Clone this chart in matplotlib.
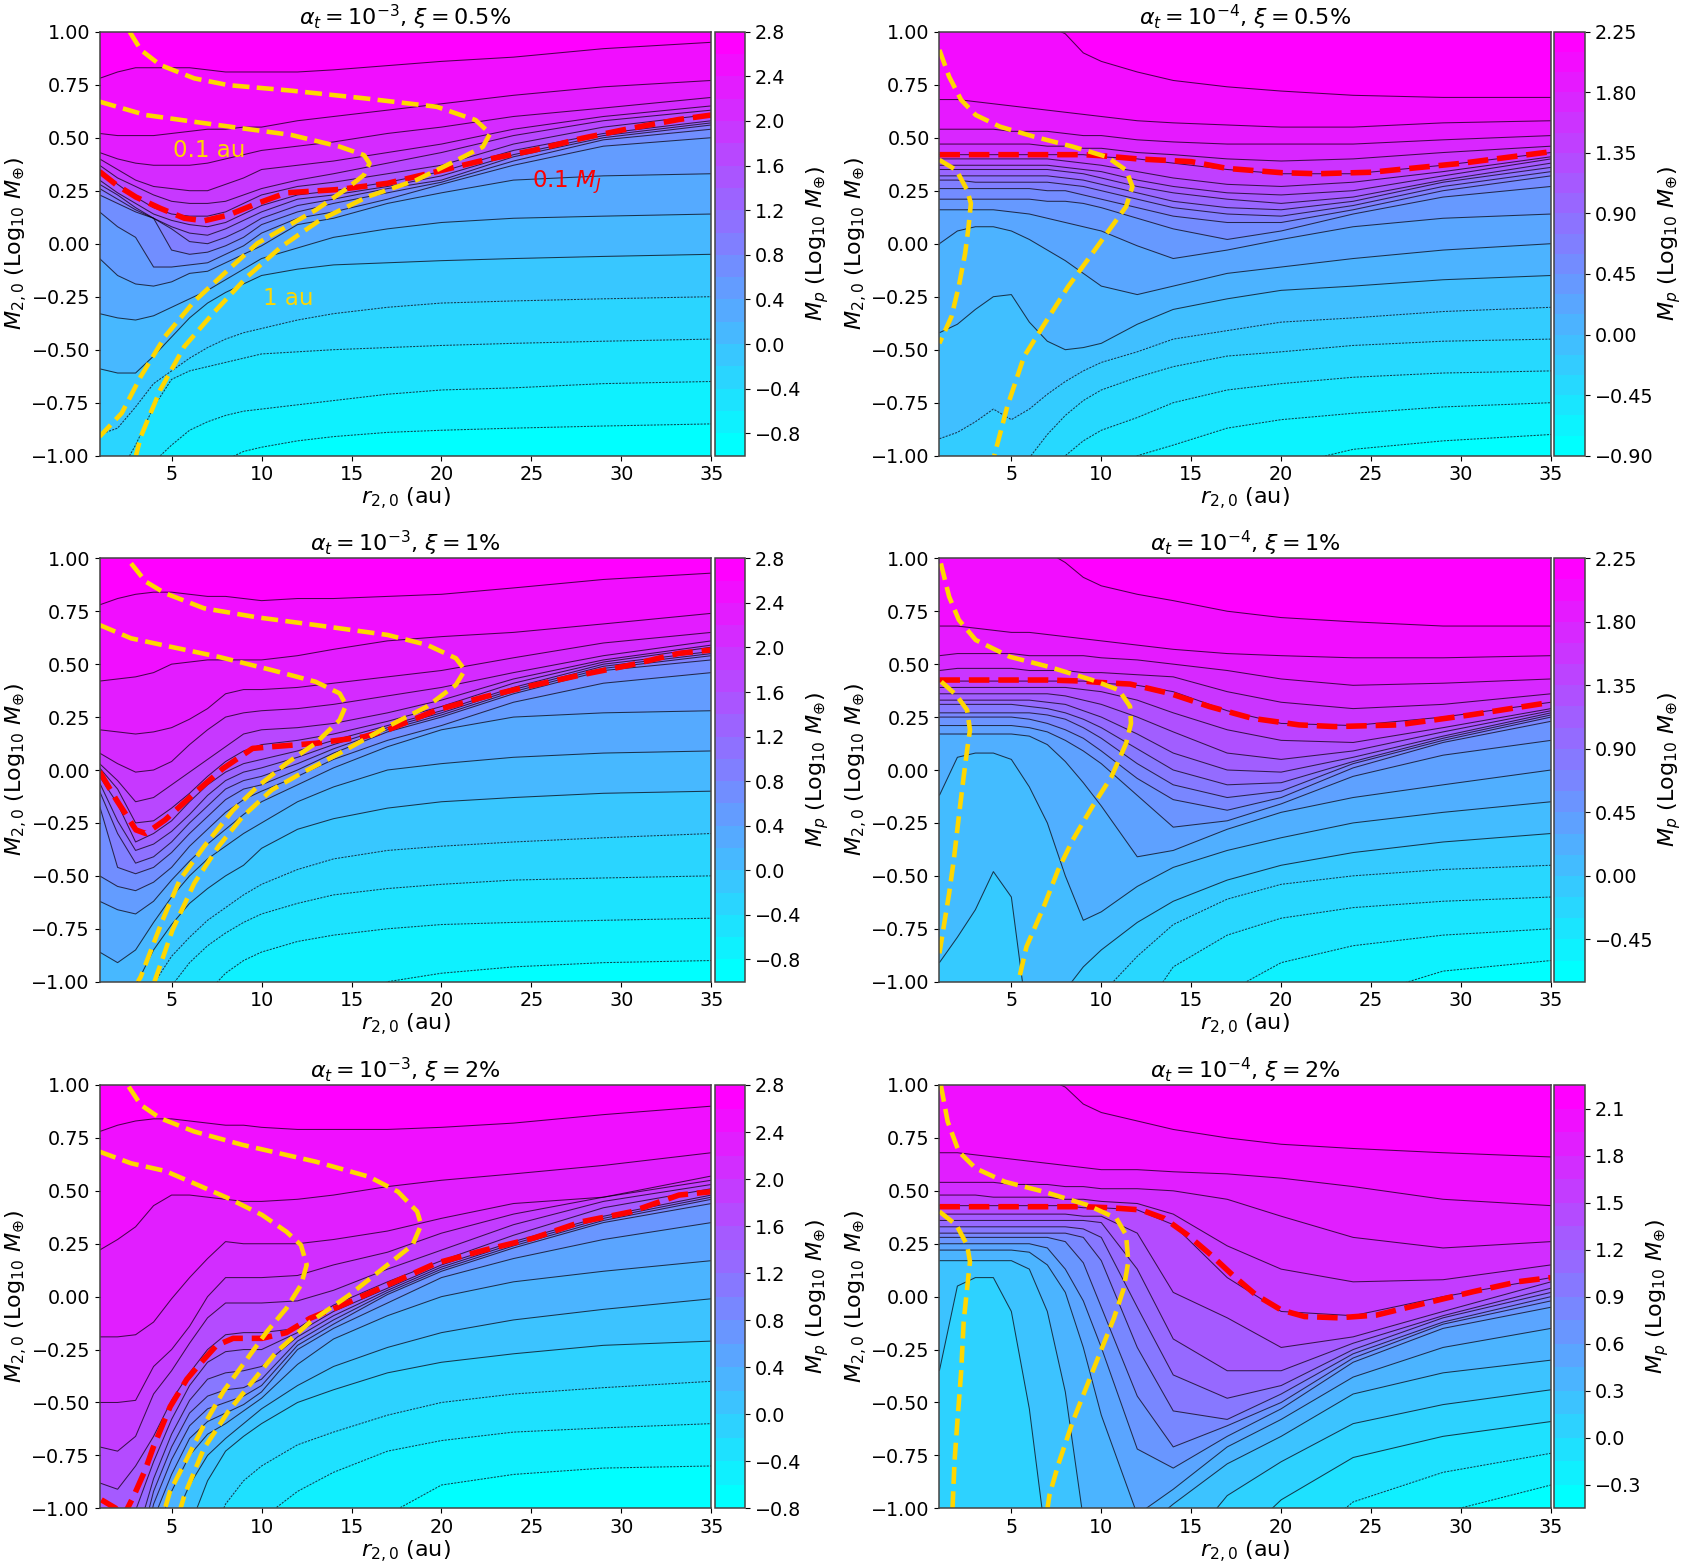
import numpy as np
import matplotlib
matplotlib.use("Agg")
import matplotlib.pyplot as plt
from matplotlib.ticker import FuncFormatter

plt.rcParams["contour.negative_linestyle"] = (0, (2.0, 1.2))

# column positions (au) shared by all level-curve tables
R = [1, 2, 3, 4, 5, 6, 7, 8, 9, 10, 12, 14, 17, 20, 24, 29, 35]

# Each table: M2,0 (in hundredths) at which Mp reaches a level, highest level first
P1_LEVELS = [2.6, 2.4, 2.2, 2.0, 1.8, 1.6, 1.4, 1.2, 1.0, 0.8, 0.6, 0.4, 0.2, 0.0, -0.2, -0.4, -0.6, -0.8]
P1_EDGES = (-1.0, 2.8)
P1_M2 = [
    [78, 81, 83, 83, 83, 83, 82, 81, 81, 81, 81, 82, 84, 86, 88, 92, 95],
    [52, 51, 51, 51, 52, 53, 54, 54, 55, 55, 58, 60, 63, 66, 70, 74, 77],
    [43, 40, 38, 37, 37, 37, 38, 40, 42, 44, 46, 48, 52, 55, 60, 64, 69],
    [40, 35, 30, 27, 26, 25, 25, 28, 31, 35, 37, 39, 43, 47, 54, 60, 65],
    [37, 31, 27, 23, 20, 19, 19, 20, 23, 26, 30, 33, 38, 43, 51, 58, 63],
    [35, 28, 22, 17, 14, 13, 13, 15, 19, 23, 27, 29, 33, 37, 47, 55, 61],
    [30, 24, 19, 14, 11, 9, 8, 10, 14, 18, 23, 25, 29, 34, 44, 52, 58],
    [28, 23, 17, 12, 8, 5, 4, 7, 11, 15, 21, 23, 27, 32, 42, 51, 57],
    [26, 21, 16, 12, 7, 1, 0, 3, 7, 12, 18, 21, 26, 30, 41, 50, 56],
    [23, 19, 15, 12, -3, -5, -4, -1, 3, 9, 15, 19, 24, 29, 39, 49, 54],
    [15, 8, 3, -11, -11, -10, -9, -5, -1, 5, 12, 15, 21, 28, 37, 46, 50],
    [-7, -15, -19, -20, -18, -14, -13, -9, -5, -1, 9, 12, 19, 24, 30, 32, 33],
    [-33, -35, -36, -34, -30, -26, -22, -17, -12, -7, -2, 3, 7, 10, 12, 13, 14],
    [-59, -61, -61, -53, -44, -35, -28, -23, -19, -15, -12, -10, -9, -8, -7, -6, -5],
    [-90, -87, -77, -66, -60, -54, -49, -45, -42, -40, -36, -33, -30, -28, -27, -26, -25],
    [-130, -110, -95, -77, -64, -60, -58, -56, -54, -52, -51, -50, -49, -48, -47, -46, -45],
    [-150, -135, -125, -103, -95, -88, -84, -81, -79, -78, -76, -74, -71, -69, -68, -66, -65],
    [-170, -160, -150, -140, -130, -120, -110, -102, -98, -96, -93, -91, -89, -88, -87, -86, -85],
]
P1_RED_R = [1, 1.94, 3.02, 4.37, 5.72, 6.8, 8.15, 9.76, 11.38, 14.34, 17, 19.73, 22.4, 25.1, 27.8, 30.5, 33.2, 35]
P1_RED_M = [.34, .277, .22, .167, .12, .108, .135, .19, .24, .256, .285, .34, .395, .44, .497, .544, .586, .607]
P1_GOLD_A_R = [1, 3.56, 6.26, 8.95, 11.65, 14.34, 15.69, 16.0, 15.69, 14.75, 13, 11.38, 9.77, 8.15, 6.26, 4.64, 3.29, 2.23, 1]
P1_GOLD_A_M = [.67, .607, .575, .544, .513, .458, .418, .379, .324, .261, .158, .08, .002, -.123, -.272, -.437, -.626, -.799, -.91]
P1_GOLD_B_R = [2.67, 3.29, 4.37, 6.26, 8.15, 11.65, 15.69, 19.73, 21.9, 22.7, 22.3, 20.5, 18.6, 15.9, 13.26, 11.1, 9.2, 7.3, 5.7, 4.37, 3.29, 3.02]
P1_GOLD_B_M = [1, .914, .843, .78, .748, .722, .686, .646, .583, .52, .457, .379, .3, .222, .112, -.014, -.156, -.329, -.486, -.69, -.91, -1]
P1_CBAR = [-0.8, -0.4, 0.0, 0.4, 0.8, 1.2, 1.6, 2.0, 2.4, 2.8]

P2_LEVELS = [2.1, 1.95, 1.8, 1.65, 1.5, 1.35, 1.2, 1.05, 0.9, 0.75, 0.6, 0.45, 0.3, 0.15, 0.0, -0.15, -0.3, -0.45, -0.6, -0.75]
P2_EDGES = (-0.9, 2.25)
P2_M2 = [
    [145, 135, 128, 120, 114, 108, 103, 99, 90, 86, 81, 77, 74, 72, 70, 69, 69],
    [68, 68, 67, 66, 65, 64, 63, 62, 61, 60, 58, 57, 56, 55, 55, 57, 58],
    [54, 54, 54, 54, 53, 53, 53, 52, 51, 51, 49, 48, 47, 47, 47, 49, 51],
    [47, 47, 47, 47, 47, 47, 46, 46, 45, 45, 43, 42, 40, 39, 40, 43, 46],
    [42, 42, 42, 42, 42, 42, 42, 42, 42, 41, 40, 38, 35, 33, 33, 37, 43],
    [40, 40, 40, 40, 40, 40, 40, 39, 38, 37, 34, 31, 28, 27, 29, 34, 41],
    [37, 37, 37, 37, 37, 37, 37, 36, 35, 34, 30, 27, 24, 23, 25, 32, 40],
    [35, 35, 35, 35, 35, 35, 35, 34, 33, 31, 27, 24, 21, 19, 22, 30, 38],
    [32, 32, 32, 32, 32, 32, 32, 31, 30, 28, 24, 20, 17, 16, 20, 29, 36],
    [30, 30, 29, 29, 29, 29, 29, 28, 27, 25, 21, 17, 14, 13, 18, 27, 34],
    [26, 26, 26, 26, 26, 26, 25, 25, 23, 21, 17, 13, 10, 10, 16, 25, 32],
    [21, 21, 21, 21, 21, 21, 20, 20, 19, 17, 12, 7, 2, 6, 14, 22, 27],
    [16, 16, 16, 16, 15, 14, 12, 10, 8, 6, -1, -7, -3, 2, 8, 12, 14],
    [0, 6, 8, 8, 6, 2, -3, -8, -14, -20, -24, -20, -14, -11, -7, -3, 0],
    [-42, -38, -31, -25, -24, -37, -46, -50, -49, -47, -38, -31, -26, -22, -20, -17, -15],
    [-92, -89, -84, -78, -83, -78, -71, -65, -60, -56, -51, -45, -41, -37, -35, -32, -30],
    [-150, -140, -130, -120, -110, -101, -90, -81, -74, -69, -63, -58, -53, -51, -48, -46, -45],
    [-170, -160, -150, -140, -130, -125, -115, -100, -93, -88, -82, -75, -69, -66, -63, -61, -60],
    [-190, -180, -170, -160, -150, -145, -140, -130, -125, -118, -100, -95, -87, -83, -80, -77, -75],
    [-210, -205, -195, -185, -175, -165, -160, -155, -150, -145, -135, -125, -115, -105, -97, -93, -90],
]
P2_RED_R = [1, 3, 5, 7, 9, 10, 12, 15, 17, 20, 22, 25, 30, 35]
P2_RED_M = [.42, .42, .42, .42, .42, .415, .40, .387, .355, .335, .33, .337, .379, .434]
P2_GOLD_A_R = [1, 1.94, 2.54, 2.75, 2.62, 2.43, 2.08, 1.67, 1]
P2_GOLD_A_M = [.395, .347, .253, .19, .08, -.046, -.2, -.344, -.47]
P2_GOLD_B_R = [1, 1.54, 2.21, 3.02, 4.37, 6.26, 8.41, 10.3, 11.38, 11.73, 11.38, 10.57, 9.5, 8.15, 6.8, 5.7, 4.77, 4.05]
P2_GOLD_B_M = [.914, .788, .678, .607, .552, .505, .458, .41, .347, .269, .175, .08, -.046, -.203, -.384, -.533, -.769, -1]
P2_CBAR = [-0.90, -0.45, 0.00, 0.45, 0.90, 1.35, 1.80, 2.25]

P3_LEVELS = [2.6, 2.4, 2.2, 2.0, 1.8, 1.6, 1.4, 1.2, 1.0, 0.8, 0.6, 0.4, 0.2, 0.0, -0.2, -0.4, -0.6, -0.8]
P3_EDGES = (-1.0, 2.8)
P3_M2 = [
    [78, 81, 83, 84, 84, 83, 82, 82, 81, 80, 81, 81, 82, 83, 86, 90, 93],
    [42, 43, 44, 46, 50, 51, 52, 52, 52, 52, 54, 57, 61, 63, 65, 69, 74],
    [19, 18, 17, 18, 20, 24, 29, 36, 38, 38, 39, 41, 44, 47, 53, 60, 65],
    [8, 3, -1, 0, 4, 12, 19, 25, 27, 28, 29, 31, 35, 39, 46, 54, 61],
    [3, -5, -15, -13, -7, -1, 5, 11, 17, 19, 20, 22, 27, 33, 43, 52, 59],
    [1, -9, -25, -24, -18, -11, -3, 4, 9, 12, 14, 17, 23, 30, 41, 51, 58],
    [-3, -16, -34, -30, -24, -15, -7, -1, 3, 5, 9, 14, 21, 28, 39, 50, 56],
    [-6, -24, -38, -35, -29, -21, -12, -5, -1, 1, 6, 12, 20, 27, 38, 49, 55],
    [-10, -30, -44, -41, -34, -25, -17, -9, -5, -3, 3, 10, 19, 26, 37, 48, 54],
    [-17, -46, -49, -46, -39, -30, -22, -14, -9, -7, 0, 8, 18, 25, 36, 47, 52],
    [-50, -55, -57, -53, -46, -36, -28, -20, -14, -10, -3, 5, 14, 21, 32, 41, 46],
    [-62, -66, -68, -62, -52, -43, -35, -28, -21, -15, -7, 1, 11, 19, 25, 27, 28],
    [-86, -91, -85, -72, -60, -50, -42, -36, -30, -25, -15, -8, 0, 3, 6, 8, 9],
    [-120, -110, -102, -85, -73, -63, -56, -50, -45, -37, -28, -23, -18, -15, -13, -11, -10],
    [-135, -125, -115, -101, -88, -79, -71, -65, -59, -54, -47, -42, -38, -36, -34, -32, -30],
    [-150, -140, -130, -120, -102, -91, -83, -77, -72, -68, -63, -59, -56, -54, -52, -51, -50],
    [-165, -155, -145, -135, -125, -115, -105, -96, -90, -86, -81, -78, -75, -73, -72, -71, -70],
    [-190, -180, -170, -160, -155, -150, -145, -140, -135, -130, -122, -113, -100, -96, -93, -91, -90],
]
P3_RED_R = [1, 1.94, 3.02, 3.56, 4.64, 6.26, 7.87, 9.5, 10.57, 13, 15.69, 17, 19.73, 22.4, 25.1, 27.8, 30.5, 33.2, 35]
P3_RED_M = [-.008, -.142, -.283, -.3, -.236, -.11, .008, .102, .11, .126, .157, .189, .283, .346, .4, .45, .496, .551, .567]
P3_GOLD_A_R = [1, 2.75, 4.9, 7.6, 10.57, 13, 14.34, 14.7, 14.34, 13, 11.38, 9.77, 8.41, 6.8, 5.45, 4.5, 3.29, 3.13]
P3_GOLD_A_M = [.685, .622, .583, .535, .472, .417, .362, .307, .236, .126, .031, -.079, -.19, -.362, -.52, -.709, -.976, -1]
P3_GOLD_B_R = [2.75, 3.56, 4.64, 6.8, 9.77, 13, 17, 19.2, 20.8, 21.3, 20.8, 19.2, 17, 14.34, 12.2, 10.57, 8.95, 7.6, 6.26, 5.05, 4.05]
P3_GOLD_B_M = [.976, .89, .835, .764, .721, .685, .638, .591, .528, .472, .402, .3, .205, .079, -.016, -.094, -.22, -.362, -.535, -.756, -1]
P3_CBAR = [-0.8, -0.4, 0.0, 0.4, 0.8, 1.2, 1.6, 2.0, 2.4, 2.8]

P4_LEVELS = [2.1, 1.95, 1.8, 1.65, 1.5, 1.35, 1.2, 1.05, 0.9, 0.75, 0.6, 0.45, 0.3, 0.15, 0.0, -0.15, -0.3, -0.45, -0.6]
P4_EDGES = (-0.75, 2.25)
P4_M2 = [
    [145, 135, 128, 120, 114, 108, 103, 98, 91, 87, 83, 80, 75, 72, 70, 68, 68],
    [68, 68, 67, 66, 65, 65, 64, 63, 62, 61, 59, 57, 55, 54, 53, 53, 54],
    [54, 55, 55, 55, 55, 54, 54, 54, 54, 53, 52, 50, 47, 43, 40, 41, 43],
    [47, 48, 48, 48, 48, 47, 47, 47, 46, 46, 45, 44, 37, 32, 29, 31, 36],
    [42, 42, 42, 42, 42, 42, 42, 42, 42, 41, 40, 37, 28, 22, 21, 25, 32],
    [39, 39, 39, 39, 39, 39, 39, 39, 38, 37, 33, 27, 19, 14, 13, 20, 29],
    [36, 36, 36, 36, 36, 36, 36, 35, 33, 31, 25, 18, 8, 5, 9, 18, 28],
    [33, 33, 33, 33, 33, 33, 32, 31, 28, 25, 17, 8, 0, -1, 6, 16, 27],
    [31, 31, 31, 31, 31, 30, 29, 27, 24, 20, 10, 0, -7, -6, 4, 15, 26],
    [27, 27, 27, 27, 27, 27, 26, 24, 20, 15, 3, -7, -13, -10, 3, 14, 25],
    [25, 25, 25, 25, 25, 24, 22, 19, 15, 9, -4, -14, -19, -13, 1, 13, 23],
    [21, 21, 21, 21, 21, 20, 18, 14, 9, 3, -12, -27, -24, -16, -3, 7, 14],
    [17, 17, 17, 17, 17, 16, 12, 4, -6, -17, -41, -38, -28, -20, -13, -7, 0],
    [-12, 6, 8, 8, 5, -8, -25, -50, -71, -67, -55, -46, -38, -32, -25, -20, -15],
    [-91, -79, -66, -48, -60, -125, -115, -104, -93, -85, -72, -62, -52, -45, -39, -34, -30],
    [-150, -148, -146, -144, -142, -140, -135, -128, -118, -106, -88, -73, -61, -54, -50, -47, -45],
    [-170, -168, -166, -164, -162, -160, -155, -150, -145, -140, -118, -93, -78, -70, -65, -62, -60],
    [-190, -188, -186, -184, -182, -180, -178, -175, -170, -165, -150, -135, -105, -91, -83, -78, -75],
    [-210, -208, -206, -204, -202, -200, -198, -195, -190, -185, -175, -165, -150, -130, -108, -95, -90],
]
P4_RED_R = [1, 3, 5, 7, 9, 10, 11.6, 13.8, 16, 18.4, 21, 23, 26.5, 30.5, 35]
P4_RED_M = [.425, .425, .425, .425, .42, .413, .406, .362, .3, .244, .213, .205, .213, .26, .32]
P4_GOLD_A_R = [1, 1.27, 1.54, 1.8, 2.08, 2.35, 2.54, 2.7, 2.54, 1.94, 1]
P4_GOLD_A_M = [-.866, -.724, -.583, -.425, -.22, -.031, .094, .189, .283, .354, .425]
P4_GOLD_B_R = [1.08, 1.54, 2.08, 3.02, 4.91, 7.06, 9.5, 10.97, 11.6, 11.65, 11.38, 10.57, 9.5, 8.41, 7.6, 6.8, 5.84, 5.39]
P4_GOLD_B_M = [.976, .819, .709, .614, .535, .488, .425, .378, .3, .22, .126, -.031, -.173, -.331, -.472, -.646, -.835, -1]
P4_CBAR = [-0.45, 0.00, 0.45, 0.90, 1.35, 1.80, 2.25]

P5_LEVELS = [2.6, 2.4, 2.2, 2.0, 1.8, 1.6, 1.4, 1.2, 1.0, 0.8, 0.6, 0.4, 0.2, 0.0, -0.2, -0.4, -0.6]
P5_EDGES = (-0.8, 2.8)
P5_M2 = [
    [78, 81, 83, 84, 84, 83, 82, 81, 81, 80, 79, 79, 79, 80, 82, 86, 90],
    [22, 27, 33, 43, 48, 48, 47, 46, 45, 45, 46, 48, 52, 55, 58, 62, 68],
    [-19, -19, -18, -12, -1, 9, 18, 26, 25, 25, 25, 27, 31, 37, 44, 47, 57],
    [-50, -50, -49, -33, -25, -14, 0, 9, 9, 9, 10, 15, 21, 30, 39, 47, 55],
    [-71, -73, -66, -46, -35, -22, -10, -3, -3, -3, -2, 3, 13, 22, 34, 45, 53],
    [-88, -91, -80, -66, -49, -36, -25, -18, -17, -17, -15, -4, 7, 17, 29, 42, 51],
    [-125, -115, -101, -78, -58, -42, -31, -26, -25, -25, -17, -7, 4, 15, 26, 38, 48],
    [-135, -125, -115, -86, -65, -49, -39, -36, -35, -33, -19, -9, 3, 14, 25, 37, 47],
    [-145, -135, -125, -92, -71, -55, -47, -44, -43, -39, -21, -11, 2, 13, 24, 36, 46],
    [-155, -145, -135, -98, -77, -61, -53, -50, -47, -42, -23, -13, 1, 12, 23, 35, 44],
    [-165, -155, -145, -105, -84, -67, -59, -55, -51, -45, -25, -15, -3, 9, 18, 27, 35],
    [-175, -165, -155, -115, -92, -75, -65, -60, -54, -48, -32, -20, -9, 0, 7, 12, 17],
    [-190, -180, -170, -140, -108, -89, -75, -67, -60, -53, -42, -33, -24, -17, -11, -6, -1],
    [-200, -190, -180, -160, -135, -109, -87, -73, -66, -60, -50, -44, -36, -31, -27, -23, -21],
    [-210, -205, -200, -190, -170, -145, -118, -98, -87, -80, -70, -64, -56, -50, -46, -43, -40],
    [-220, -215, -210, -205, -190, -175, -150, -130, -118, -105, -92, -83, -73, -68, -64, -62, -60],
    [-230, -225, -220, -215, -210, -205, -195, -180, -170, -160, -140, -125, -103, -89, -84, -81, -80],
]
P5_RED_R = [1.1, 1.9, 2.2, 2.55, 2.88, 3.53, 3.99, 4.92, 5.85, 6.6, 7.5, 8.42, 10.03, 11.38, 12.7, 14.3, 17, 19.7, 22.4, 25.1, 27.8, 30.5, 33.2, 35]
P5_RED_M = [-.96, -1, -1.05, -1, -.945, -.82, -.71, -.52, -.39, -.315, -.23, -.197, -.197, -.17, -.102, -.047, .055, .158, .22, .276, .354, .4, .48, .496]
P5_GOLD_A_R = [1, 2.75, 4.64, 6.26, 8.15, 10.03, 11.38, 12.19, 12.51, 12.19, 11.38, 10.3, 8.95, 7.87, 6.8, 5.86, 4.91, 4.64]
P5_GOLD_A_M = [.685, .63, .594, .535, .465, .386, .307, .244, .15, .055, -.055, -.165, -.323, -.449, -.606, -.764, -.921, -1]
P5_GOLD_B_R = [2.62, 3.29, 4.37, 6.26, 8.95, 13, 15.96, 17.58, 18.65, 18.87, 18.39, 17, 14.88, 12.73, 10.84, 9.49, 8.15, 6.8, 5.72, 5.5]
P5_GOLD_B_M = [.992, .906, .843, .78, .717, .638, .567, .496, .402, .339, .244, .15, .008, -.118, -.26, -.402, -.543, -.717, -.937, -1]
P5_CBAR = [-0.8, -0.4, 0.0, 0.4, 0.8, 1.2, 1.6, 2.0, 2.4, 2.8]

P6_LEVELS = [2.1, 1.95, 1.8, 1.65, 1.5, 1.35, 1.2, 1.05, 0.9, 0.75, 0.6, 0.45, 0.3, 0.15, 0.0, -0.15, -0.3]
P6_EDGES = (-0.45, 2.25)
P6_M2 = [
    [145, 135, 128, 120, 114, 108, 103, 99, 91, 87, 83, 79, 75, 72, 70, 68, 66],
    [68, 68, 67, 66, 65, 64, 63, 62, 61, 60, 60, 59, 58, 56, 52, 46, 43],
    [54, 54, 54, 54, 53, 53, 53, 52, 52, 51, 51, 50, 46, 38, 28, 23, 26],
    [48, 48, 48, 47, 47, 47, 47, 46, 46, 45, 44, 39, 24, 13, 7, 8, 15],
    [43, 43, 43, 43, 43, 43, 43, 43, 42, 42, 41, 34, 9, -7, -9, 0, 9],
    [39, 39, 39, 39, 39, 39, 39, 39, 38, 38, 30, 2, -10, -24, -19, -7, 7],
    [36, 36, 36, 36, 36, 36, 36, 36, 36, 35, 13, -20, -35, -35, -22, -9, 4],
    [33, 33, 33, 33, 33, 33, 33, 33, 32, 28, -5, -37, -48, -42, -25, -10, 2],
    [30, 30, 30, 30, 30, 30, 30, 30, 28, 17, -24, -54, -58, -46, -27, -12, 0],
    [28, 28, 28, 28, 28, 28, 28, 26, 16, -5, -47, -71, -61, -50, -29, -13, -2],
    [25, 25, 25, 25, 25, 25, 23, 13, -2, -24, -72, -81, -66, -53, -31, -15, -5],
    [22, 22, 22, 22, 22, 21, 15, 2, -24, -56, -103, -91, -71, -58, -38, -24, -15],
    [17, 17, 17, 17, 17, 13, -7, -45, -105, -110, -112, -98, -79, -66, -46, -36, -30],
    [-35, 5, 9, 9, -7, -53, -120, -125, -128, -130, -132, -125, -94, -78, -60, -51, -44],
    [-150, -148, -146, -145, -145, -145, -145, -145, -145, -145, -145, -140, -120, -96, -76, -66, -59],
    [-170, -170, -168, -168, -168, -168, -168, -168, -168, -168, -165, -160, -145, -125, -97, -83, -74],
    [-190, -190, -188, -188, -188, -188, -188, -188, -188, -188, -185, -180, -170, -150, -125, -102, -89],
]
P6_RED_R = [1, 3, 5, 7, 9, 10.5, 12.2, 13.5, 14.8, 16.1, 17.3, 18.6, 20, 21.3, 23.2, 25.3, 28, 30.7, 33.2, 35]
P6_RED_M = [.425, .425, .425, .425, .425, .42, .41, .37, .291, .197, .102, .008, -.063, -.094, -.1, -.087, -.031, .024, .071, .09]
P6_GOLD_A_R = [1, 1.94, 2.54, 2.7, 2.54, 2.35, 2.21, 2, 1.84, 1.73]
P6_GOLD_A_M = [.402, .339, .244, .165, .039, -.118, -.354, -.59, -.78, -1]
P6_GOLD_B_R = [1.08, 1.46, 2.08, 3.02, 4.64, 6.8, 9.22, 10.84, 11.38, 11.5, 11.25, 10.7, 10.03, 9.22, 8.41, 7.6, 7.12, 7.01]
P6_GOLD_B_M = [1, .827, .685, .606, .543, .496, .433, .37, .291, .165, .039, -.102, -.244, -.417, -.591, -.795, -.937, -1]
P6_CBAR = [-0.3, 0.0, 0.3, 0.6, 0.9, 1.2, 1.5, 1.8, 2.1]

TITLES = [r"$\alpha_t = 10^{-3}$, $\xi = 0.5\%$", r"$\alpha_t = 10^{-4}$, $\xi = 0.5\%$",
          r"$\alpha_t = 10^{-3}$, $\xi = 1\%$", r"$\alpha_t = 10^{-4}$, $\xi = 1\%$",
          r"$\alpha_t = 10^{-3}$, $\xi = 2\%$", r"$\alpha_t = 10^{-4}$, $\xi = 2\%$"]
CBAR_DEC = [1, 2, 1, 2, 1, 1]

W, H = 1683, 1563
COLS = [(99.6, 711.4, 714.8, 745.3), (939.4, 1551.0, 1554.5, 1585.0)]
ROWS = [(31.7, 455.7), (558.3, 981.7), (1085.0, 1508.3)]
XTICKS = [5, 10, 15, 20, 25, 30, 35]
YTICKS = [-1.0, -0.75, -0.5, -0.25, 0.0, 0.25, 0.5, 0.75, 1.0]
FS = 13.8
LFS = 16


def dec_fmt(d):
    return FuncFormatter(lambda v, _: f"{v:.{d}f}".replace("-", "\u2212"))


fig = plt.figure(figsize=(W / 100, H / 100), dpi=100)

PANELS = [
    (P1_LEVELS, P1_EDGES, P1_M2, P1_RED_R, P1_RED_M, P1_GOLD_A_R, P1_GOLD_A_M, P1_GOLD_B_R, P1_GOLD_B_M, P1_CBAR),
    (P2_LEVELS, P2_EDGES, P2_M2, P2_RED_R, P2_RED_M, P2_GOLD_A_R, P2_GOLD_A_M, P2_GOLD_B_R, P2_GOLD_B_M, P2_CBAR),
    (P3_LEVELS, P3_EDGES, P3_M2, P3_RED_R, P3_RED_M, P3_GOLD_A_R, P3_GOLD_A_M, P3_GOLD_B_R, P3_GOLD_B_M, P3_CBAR),
    (P4_LEVELS, P4_EDGES, P4_M2, P4_RED_R, P4_RED_M, P4_GOLD_A_R, P4_GOLD_A_M, P4_GOLD_B_R, P4_GOLD_B_M, P4_CBAR),
    (P5_LEVELS, P5_EDGES, P5_M2, P5_RED_R, P5_RED_M, P5_GOLD_A_R, P5_GOLD_A_M, P5_GOLD_B_R, P5_GOLD_B_M, P5_CBAR),
    (P6_LEVELS, P6_EDGES, P6_M2, P6_RED_R, P6_RED_M, P6_GOLD_A_R, P6_GOLD_A_M, P6_GOLD_B_R, P6_GOLD_B_M, P6_CBAR),
]

for i, (levels, edges, m2, rr, rm, ar, am, br, bm, cticks) in enumerate(PANELS):
    row, col = i // 2, i % 2
    x0, x1, c0, c1 = COLS[col]
    y0, y1 = ROWS[row]
    ax = fig.add_axes([x0 / W, 1 - y1 / H, (x1 - x0) / W, (y1 - y0) / H])
    cax = fig.add_axes([c0 / W, 1 - y1 / H, (c1 - c0) / W, (y1 - y0) / H])

    inner = np.array(levels[::-1])
    rows = np.array(m2[::-1], dtype=float) / 100.0
    n = len(R)
    Y = np.vstack([np.full(n, -2.6), rows, np.full(n, 1.8)])
    X = np.tile(np.array(R, dtype=float), (Y.shape[0], 1))
    z = np.concatenate([[edges[0]], inner, [edges[1]]])
    Z = np.tile(z[:, None], (1, n))
    step = z[2] - z[1]

    cf = ax.contourf(X, Y, Z, levels=z, cmap="cool", vmin=z[0] + step / 2, vmax=z[-1] - step / 2)
    ax.contour(X, Y, Z, levels=inner, colors="k", linewidths=0.75, alpha=0.7)
    ax.plot(rr, rm, color="red", lw=4.0, ls="--")
    ax.plot(ar, am, color="gold", lw=3.3, ls="--")
    ax.plot(br, bm, color="gold", lw=3.3, ls="--")

    ax.set_xlim(1, 35)
    ax.set_ylim(-1, 1)
    ax.set_xticks(XTICKS)
    ax.set_yticks(YTICKS)
    ax.yaxis.set_major_formatter(dec_fmt(2))
    ax.tick_params(labelsize=FS)
    ax.set_xlabel(r"$r_{2,0}$ (au)", fontsize=LFS, labelpad=1)
    ax.set_ylabel(r"$M_{2,0}$ (Log$_{10}$ $M_{\oplus}$)", fontsize=LFS, labelpad=1)
    ax.set_title(TITLES[i], fontsize=LFS, pad=4)

    cb = fig.colorbar(cf, cax=cax, ticks=cticks, format=dec_fmt(CBAR_DEC[i]))
    cb.ax.tick_params(labelsize=FS)
    cb.set_label(r"$M_p$ (Log$_{10}$ $M_{\oplus}$)", fontsize=LFS, labelpad=2)

    for sp in list(ax.spines.values()):
        sp.set_edgecolor("#444444")
        sp.set_linewidth(1.1)
    cb.outline.set_edgecolor("#444444")
    cb.outline.set_linewidth(1.1)

    if i == 0:
        ax.text(5.1, 0.44, "0.1 au", color="gold", fontsize=16.5, va="center")
        ax.text(10.1, -0.26, "1 au", color="gold", fontsize=16.5, va="center")
        ax.text(25.05, 0.29, r"0.1 $M_J$", color="red", fontsize=16.5, va="center")

fig.savefig("out.png", dpi=100)
